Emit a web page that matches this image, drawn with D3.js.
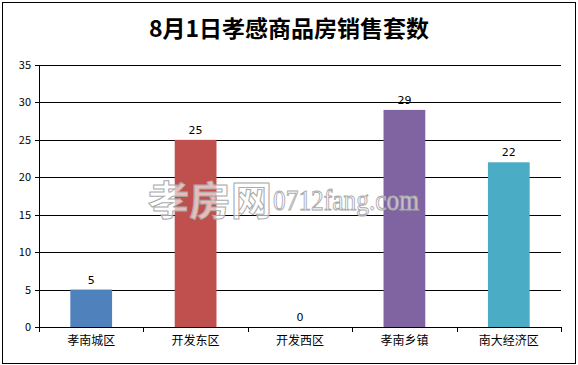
<!DOCTYPE html>
<html lang="zh">
<head>
<meta charset="utf-8">
<title>8月1日孝感商品房销售套数</title>
<script src="https://cdn.jsdelivr.net/npm/d3@7"></script>
<style>
body { margin: 0; background: #fff; }
.axis path, .axis line { stroke: #000; shape-rendering: crispEdges; }
.axis text { font-family: "Noto Sans CJK SC", sans-serif; fill: #000; }
.grid line { stroke: #000; shape-rendering: crispEdges; }
.val { font-family: "DejaVu Sans", sans-serif; font-size: 11px; fill: #000; }
.wm { fill: #fff; fill-opacity: 0.65; stroke: #aaa; stroke-width: 1; }
</style>
</head>
<body>
<div id="chart"></div>
<script>
// data
var categories = ["孝南城区", "开发东区", "开发西区", "孝南乡镇", "南大经济区"];
var values = [5, 25, 0, 29, 22];
var colors = ["#4F81BD", "#C0504D", "#9BBB59", "#8064A2", "#4BACC6"];
var yTicks = [0, 5, 10, 15, 20, 25, 30, 35];

var W = 578, H = 365;
var margin = {top: 65, right: 17, bottom: 38, left: 39};
var width = W - margin.left - margin.right,
    height = H - margin.top - margin.bottom;

var svg = d3.select("#chart").append("svg")
    .attr("width", W).attr("height", H);

// outer frame
svg.append("rect")
    .attr("x", 2.5).attr("y", 2.5)
    .attr("width", W - 5).attr("height", H - 4)
    .attr("fill", "#fff").attr("stroke", "#000");

svg.append("text")
    .attr("x", W / 2).attr("y", 37)
    .attr("text-anchor", "middle")
    .style("font-family", "'Noto Sans CJK SC', sans-serif")
    .style("font-size", "23px")
    .style("font-weight", "bold")
    .text("8月1日孝感商品房销售套数");

var g = svg.append("g")
    .attr("transform", "translate(" + margin.left + "," + margin.top + ")");

var x = d3.scaleBand().domain(categories).range([0, width]).paddingInner(0.6).paddingOuter(0.3);
var xa = d3.scaleBand().domain(categories).range([0, width]);
var y = d3.scaleLinear().domain([0, 35]).range([height, 0]);

// gridlines
g.append("g").attr("class", "grid")
  .selectAll("line").data(yTicks.slice(1)).enter().append("line")
    .attr("x1", 0).attr("x2", width)
    .attr("y1", function(d) { return Math.round(y(d)) + 0.5; })
    .attr("y2", function(d) { return Math.round(y(d)) + 0.5; });

// bars
g.selectAll(".bar").data(values).enter().append("rect")
    .attr("class", "bar")
    .attr("x", function(d, i) { return x(categories[i]); })
    .attr("y", function(d) { return y(d); })
    .attr("width", x.bandwidth())
    .attr("height", function(d) { return height - y(d); })
    .attr("fill", function(d, i) { return colors[i]; });

g.selectAll(".val").data(values).enter().append("text")
    .attr("class", "val")
    .attr("x", function(d, i) { return x(categories[i]) + x.bandwidth() / 2; })
    .attr("y", function(d) { return y(d) - 6; })
    .attr("text-anchor", "middle")
    .text(function(d) { return d; });

// watermark over the plot
svg.append("text").attr("class", "wm")
    .attr("x", 148).attr("y", 215)
    .attr("textLength", 124).attr("lengthAdjust", "spacingAndGlyphs")
    .style("font-family", "'Noto Sans CJK SC', sans-serif")
    .style("font-size", "40px")
    .style("font-weight", "bold")
    .text("孝房网");
svg.append("text").attr("class", "wm")
    .attr("x", 273).attr("y", 210)
    .attr("textLength", 146).attr("lengthAdjust", "spacingAndGlyphs")
    .style("font-family", "'Liberation Serif', serif")
    .style("font-size", "30px")
    .text("0712fang.com");

// axes
var yAxis = d3.axisLeft(y).tickValues(yTicks).tickSize(4).tickSizeOuter(0);
g.append("g").attr("class", "axis")
    .call(yAxis)
    .call(function(s) { s.selectAll("text").style("font-size", "11px").attr("x", -8); });

var xAxis = d3.axisBottom(xa).tickSize(0).tickSizeOuter(0);
var xg = g.append("g").attr("class", "axis")
    .attr("transform", "translate(0," + height + ")")
    .call(xAxis);
xg.selectAll("text").style("font-size", "12px").attr("dy", "1.25em");
// category boundary ticks
xg.selectAll(".sep").data(d3.range(categories.length + 1)).enter().append("line")
    .attr("class", "sep")
    .attr("x1", function(i) { return Math.round(i * xa.step()) + 0.5; })
    .attr("x2", function(i) { return Math.round(i * xa.step()) + 0.5; })
    .attr("y1", 0).attr("y2", 5);
</script>
</body>
</html>
